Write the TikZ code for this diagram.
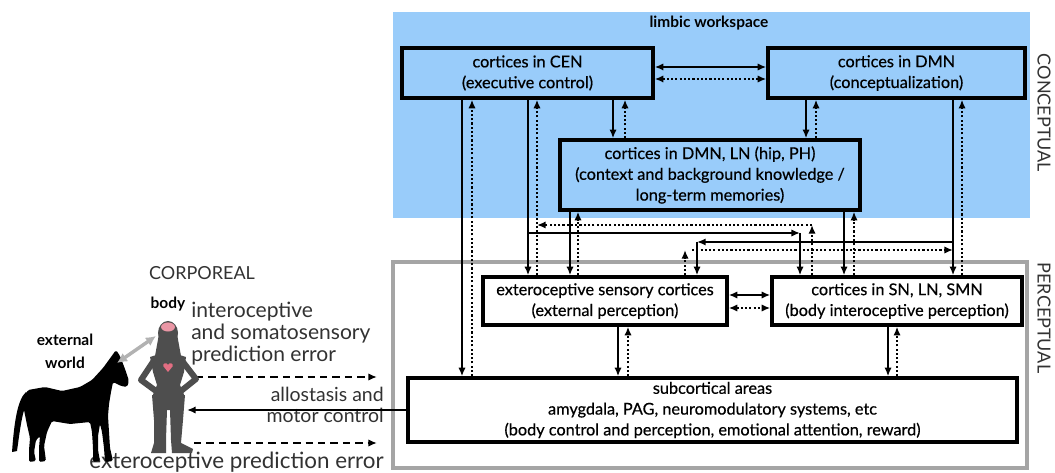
\documentclass[tikz,border=0pt]{standalone}
\usepackage{fontspec}
\setmainfont{Lato}
\newfontfamily\boxfont{Lato}[FakeBold=0.5]
\usetikzlibrary{arrows.meta}
\definecolor{limbic}{RGB}{153,204,250}
\definecolor{percgray}{RGB}{165,165,165}
\definecolor{figgray}{RGB}{78,78,78}
\definecolor{brainpink}{RGB}{234,150,165}
\definecolor{heartred}{RGB}{226,110,130}
\definecolor{sidetxt}{RGB}{50,50,50}
\begin{document}
\begin{tikzpicture}[x=0.75pt,y=-0.75pt,
  >={Latex[length=6.5pt,width=5.5pt]},
  cbox/.style={draw,line width=2.6pt,inner sep=0pt,align=center,
    font=\boxfont\fontsize{12.2}{15.6}\selectfont},
  solidline/.style={line width=1.7pt},
  dotline/.style={line width=2pt,dash pattern=on 1.6pt off 1.6pt},
  dashline/.style={line width=1.6pt,dash pattern=on 5.5pt off 3.8pt},
  bigtxt/.style={inner sep=0pt,font=\fontsize{15.8}{16}\selectfont,text=sidetxt},
  tag/.style={inner sep=0pt,font=\bfseries\fontsize{11.6}{13}\selectfont},
  axis/.style={inner sep=0pt,font=\fontsize{13.5}{15}\selectfont,text=sidetxt},
]
\useasboundingbox (0,0) rectangle (1055,473);

% regions
\fill[limbic] (393,12) rectangle (1030,218);
\draw[percgray,line width=3pt] (393,262) rectangle (1027,468);
\node[tag] (limb) at (709,23) {limbic workspace};
\node[axis,rotate=-90] (concept) at (1044,113) {CONCEPTUAL};
\node[axis,rotate=-90] (percept) at (1044,318) {PERCEPTUAL};

% boxes
\node[cbox,minimum width=251*0.75pt,minimum height=50*0.75pt] (cen) at (527.5,73)
  {cortices in CEN\\(executive control)};
\node[cbox,minimum width=257*0.75pt,minimum height=50*0.75pt] (dmn) at (896.5,73)
  {cortices in DMN\\(conceptualization)};
\node[cbox,minimum width=300*0.75pt,minimum height=70*0.75pt] (mid) at (710,175)
  {cortices in DMN, LN (hip, PH)\\(context and background knowledge /\\long-term memories)};
\node[cbox,minimum width=244*0.75pt,minimum height=48*0.75pt] (ext) at (605,301)
  {exteroceptive sensory cortices\\(external perception)};
\node[cbox,minimum width=250*0.75pt,minimum height=48*0.75pt] (sn) at (897,301)
  {cortices in SN, LN, SMN\\(body interoceptive perception)};
\node[cbox,minimum width=609*0.75pt,minimum height=64*0.75pt] (sub) at (712.5,410)
  {subcortical areas\\amygdala, PAG, neuromodulatory systems, etc\\(body control and perception, emotional attention, reward)};

% CEN <-> DMN
\draw[solidline,<->] (cen.east |- 0,67) -- (dmn.west |- 0,67);
\draw[dotline,<->] (cen.east |- 0,79) -- (dmn.west |- 0,79);

% conceptual level down to the memory box
\draw[solidline,->] (613,0 |- cen.south) -- (613,0 |- mid.north);
\draw[dotline,->] (625,0 |- mid.north) -- (625,0 |- cen.south);
\draw[solidline,->] (806,0 |- dmn.south) -- (806,0 |- mid.north);
\draw[dotline,->] (816,0 |- mid.north) -- (816,0 |- dmn.south);

% CEN to subcortical areas
\draw[solidline,->] (462,0 |- cen.south) -- (462,0 |- sub.north);
\draw[dotline,->] (472,0 |- sub.north) -- (472,0 |- cen.south);

% CEN to exteroceptive cortices
\draw[solidline,->] (528,0 |- cen.south) -- (528,0 |- ext.north);
\draw[dotline,->] (537,0 |- ext.north) -- (537,0 |- cen.south);

% memory box to both perceptual boxes
\draw[solidline,->] (570,0 |- mid.south) -- (570,0 |- ext.north);
\draw[dotline,->] (578,0 |- ext.north) -- (578,0 |- mid.south);
\draw[solidline,->] (844,0 |- mid.south) -- (844,0 |- sn.north);
\draw[dotline,->] (854,0 |- sn.north) -- (854,0 |- mid.south);

% DMN to interoceptive cortices
\draw[solidline,->] (953,0 |- dmn.south) -- (953,0 |- sn.north);
\draw[dotline,->] (962,0 |- sn.north) -- (962,0 |- dmn.south);

% crossing links
\coordinate (cenA) at (528,233);
\coordinate (snA) at (800,233);
\draw[solidline,->] (cenA) -- (snA);
\draw[solidline,->] (snA) -- (snA |- sn.north);

\coordinate (snB) at (812,225);
\coordinate (cenB) at (537,225);
\draw[dotline,->] (snB |- sn.north) -- (snB);
\draw[dotline,->] (snB) -- (cenB);

\coordinate (dmnC) at (953,242);
\coordinate (extC) at (697,242);
\draw[solidline,->] (dmnC) -- (extC);
\draw[solidline,->] (extC) -- (extC |- ext.north);

\coordinate (extD) at (685,250);
\coordinate (extE) at (692,250);
\coordinate (dmnD) at (953,250);
\draw[dotline,->] (extD |- ext.north) -- (extD);
\draw[dotline,->] (extE) -- (dmnD);

% perceptual level
\draw[solidline,<->] (ext.east |- 0,295) -- (sn.west |- 0,295);
\draw[dotline,<->] (ext.east |- 0,308) -- (sn.west |- 0,308);
\draw[solidline,->] (618,0 |- ext.south) -- (618,0 |- sub.north);
\draw[dotline,->] (628,0 |- sub.north) -- (628,0 |- ext.south);
\draw[solidline,->] (888,0 |- sn.south) -- (888,0 |- sub.north);
\draw[dotline,->] (897,0 |- sub.north) -- (897,0 |- sn.south);

% corporeal side: labels
\node[axis] (corp) at (202,273) {CORPOREAL};
\node[tag] (bodylbl) at (168,304) {body};
\node[tag,align=center,font=\bfseries\fontsize{11.6}{17.5}\selectfont] (world) at (65,351) {external\\world};
\node[bigtxt,anchor=west,align=left,font=\fontsize{15.8}{16.2}\selectfont] (intero) at (191,333.5)
  {interoceptive\\and somatosensory\\prediction error};
\node[bigtxt,anchor=east,align=right,font=\fontsize{14.6}{15.2}\selectfont] (allo) at (384,405)
  {allostasis and\\motor control};
\node[bigtxt,anchor=east,font=\fontsize{16.8}{17}\selectfont] (exterr) at (384,462) {exteroceptive prediction error};

% corporeal side: signals
\coordinate (bodyA) at (196,377);
\coordinate (gateA) at (377,377);
\coordinate (bodyB) at (187,410);
\coordinate (bodyC) at (194,443);
\coordinate (gateC) at (377,443);
\draw[dashline,->] (bodyA) -- (gateA);
\draw[solidline,->] (sub.west |- bodyB) -- (bodyB);
\draw[dashline,->] (bodyC) -- (gateC);

% horse silhouette
\fill[black,rounded corners=1.2pt]
  (116,350) -- (120,356) -- (125,369) -- (129,381) -- (127,387) -- (121,386) -- (113,382)
  -- (111,392) -- (109,404) -- (108,416) -- (109,432) -- (110,448) -- (113,461) -- (105,462)
  -- (104,448) -- (102,432) -- (100,424) -- (98,436) -- (98,450) -- (100,461) -- (93,462)
  -- (93,448) -- (92,432) -- (90,422) -- (70,424) -- (52,421) -- (47,432) -- (44,446)
  -- (46,461) -- (39,462) -- (39,448) -- (40,436) -- (36,440) -- (34,452) -- (36,461)
  -- (29,462) -- (29,450) -- (30,438) -- (27,425) -- (24,410) -- (23,398) -- (28,390)
  -- (45,387) -- (62,391) -- (80,387) -- (92,380) -- (103,368) -- (111,357) -- cycle;
\fill[black] (26,392) .. controls (17,400) and (14,425) .. (12,452)
  -- (17,451) .. controls (20,430) and (22,410) .. (29,398) -- cycle;

% human silhouette
\fill[figgray] (168,333) ellipse [x radius=7.5pt, y radius=9pt];
\fill[figgray] (159,334) -- (177,334) -- (181,356) -- (155,356) -- cycle;
\fill[figgray] (150,357) .. controls (160,353) and (176,353) .. (186,357) -- (184,372) -- (180,385) -- (185,397)
  -- (152,397) -- (157,385) -- (153,372) -- cycle;
\draw[figgray,line width=4.5pt,line join=round,line cap=round]
  (153,362) -- (141,380) -- (156,391);
\draw[figgray,line width=4.5pt,line join=round,line cap=round]
  (183,362) -- (196,379) -- (181,391);
\fill[figgray] (152,395) -- (185,395) -- (183,420) -- (181,443) -- (193,449) -- (192,453)
  -- (172,453) -- (171,440) -- (170,410) -- (167,410) -- (166,440) -- (166,453)
  -- (151,453) -- (154,443) -- (154,420) -- cycle;
\fill[brainpink] (168,327) ellipse [x radius=5.2pt, y radius=3.4pt];
\fill[heartred] (168,372) -- (163.5,366.5) .. controls (162,363) and (167,362) .. (168,365)
  .. controls (169,362) and (174,363) .. (172.5,366.5) -- cycle;

% body <-> world
\coordinate (horsehead) at (117,363);
\coordinate (bodyhead) at (156,336);
\draw[gray!60,line width=2.6pt,{Latex[length=7.5pt,width=7.5pt]}-{Latex[length=7.5pt,width=7.5pt]}]
  (horsehead) -- (bodyhead);
\end{tikzpicture}
\end{document}
